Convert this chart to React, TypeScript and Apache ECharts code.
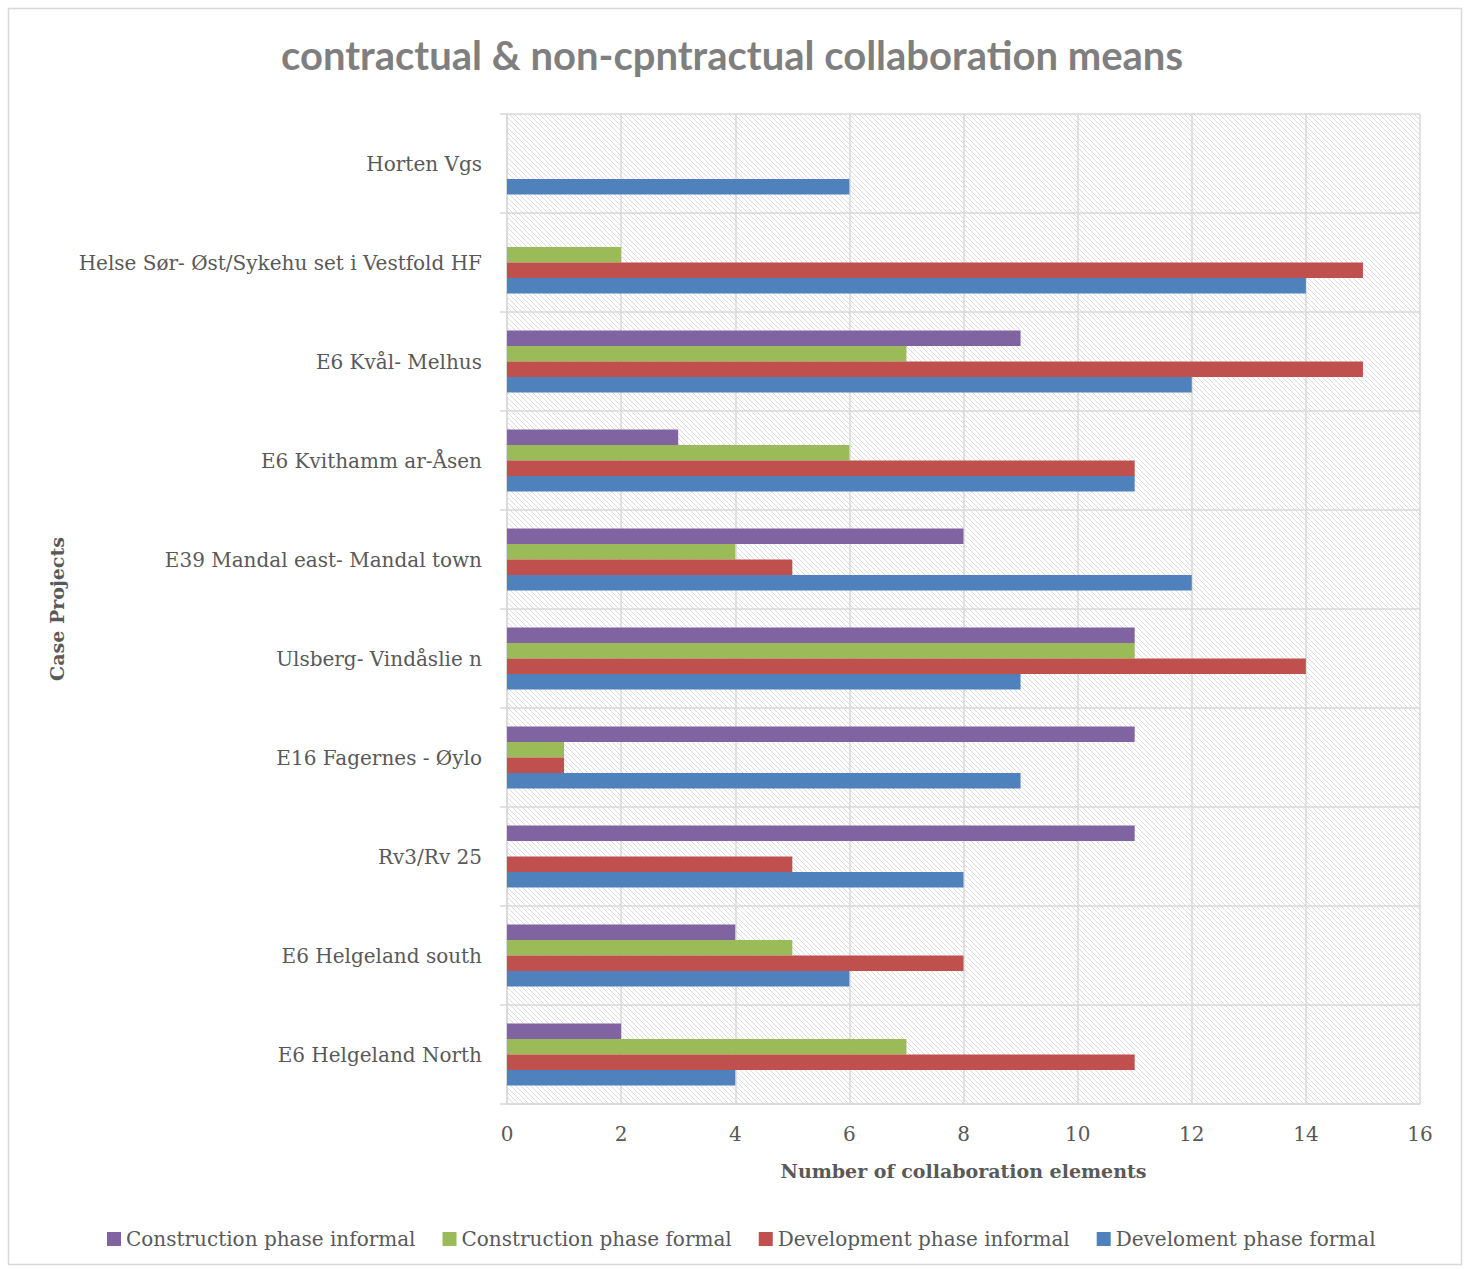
import React, { useEffect, useRef } from "react";
import * as echarts from "echarts";

const categories = [
  "E6 Helgeland North",
  "E6 Helgeland south",
  "Rv3/Rv 25",
  "E16 Fagernes - Øylo",
  "Ulsberg- Vindåslie n",
  "E39 Mandal east- Mandal town",
  "E6 Kvithamm ar-Åsen",
  "E6 Kvål- Melhus",
  "Helse Sør- Øst/Sykehu set i Vestfold HF",
  "Horten Vgs",
];

const constructionInformal = [2, 4, 11, 11, 11, 8, 3, 9, 0, 0];
const constructionFormal = [7, 5, 0, 1, 11, 4, 6, 7, 2, 0];
const developmentInformal = [11, 8, 5, 1, 14, 5, 11, 15, 15, 0];
const developmentFormal = [4, 6, 8, 9, 9, 12, 11, 12, 14, 6];

const seriesNames = [
  "Construction phase informal",
  "Construction phase formal",
  "Development phase informal",
  "Develoment phase formal",
];
const seriesColors = ["#8064A2", "#9BBB59", "#C0504D", "#4F81BD"];
const seriesData = [constructionInformal, constructionFormal, developmentInformal, developmentFormal];

const xTicks = { min: 0, max: 16, interval: 2 };

const hatchSvg =
  "data:image/svg+xml;charset=utf-8," +
  encodeURIComponent(
    "<svg xmlns='http://www.w3.org/2000/svg' width='5' height='5'>" +
      "<path d='M-1 -1L6 6M-1 4L1 6M4 -1L6 1' stroke='#dcdcdc' stroke-width='1' fill='none'/>" +
      "</svg>"
  );

export default function App() {
  const ref = useRef<HTMLDivElement>(null);
  useEffect(() => {
    if (!ref.current) return;
    const chart = echarts.init(ref.current, null, { renderer: "svg" });
    const serif = "'DejaVu Serif', serif";
    chart.setOption({
      animation: false,
      backgroundColor: "#ffffff",
      title: {
        text: "contractual & non-cpntractual collaboration means",
        left: "center",
        top: 30,
        textStyle: {
          fontFamily: "Lato, 'Open Sans', sans-serif",
          fontWeight: "bold",
          fontSize: 40,
          color: "#7f7f7f",
        },
      },
      graphic: [
        {
          type: "rect",
          shape: { x: 8.5, y: 8.5, width: 1453, height: 1256 },
          style: { fill: "none", stroke: "#d9d9d9", lineWidth: 1.5 },
          silent: true,
        },
      ],
      grid: {
        left: 507,
        right: 44,
        top: 114,
        bottom: 165,
        show: true,
        borderWidth: 0,
        backgroundColor: { image: hatchSvg, repeat: "repeat" },
      },
      legend: {
        bottom: 15,
        left: 102,
        itemWidth: 14,
        itemHeight: 14,
        itemGap: 27,
        icon: "rect",
        data: seriesNames,
        textStyle: { fontFamily: serif, fontSize: 20, color: "#595959" },
      },
      xAxis: {
        type: "value",
        min: xTicks.min,
        max: xTicks.max,
        interval: xTicks.interval,
        name: "Number of collaboration elements",
        nameLocation: "middle",
        nameGap: 57,
        nameTextStyle: { fontFamily: serif, fontWeight: "bold", fontSize: 19, color: "#595959" },
        axisLine: { show: true, lineStyle: { color: "#d9d9d9", width: 1.5 } },
        axisTick: { show: false },
        axisLabel: { fontFamily: serif, fontSize: 20, color: "#595959", margin: 20 },
        splitLine: { show: true, lineStyle: { color: "#d9d9d9", width: 1.5 } },
      },
      yAxis: {
        type: "category",
        data: categories,
        name: "Case Projects",
        nameLocation: "middle",
        nameGap: 441,
        nameTextStyle: { fontFamily: serif, fontWeight: "bold", fontSize: 19, color: "#595959" },
        axisLine: { show: true, lineStyle: { color: "#d9d9d9", width: 1.5 } },
        axisTick: { show: true, length: 7, lineStyle: { color: "#d9d9d9", width: 1.5 } },
        axisLabel: { fontFamily: serif, fontSize: 20, color: "#595959", margin: 25 },
        splitLine: { show: true, interval: 0, lineStyle: { color: "#d9d9d9", width: 1.5 } },
      },
      series: seriesNames.map((name, i) => ({
        name,
        type: "bar",
        data: seriesData[i],
        barWidth: 15.5,
        barGap: "0%",
        itemStyle: { color: seriesColors[i] },
      })),
    });
    return () => chart.dispose();
  }, []);
  return (
    <div
      ref={ref}
      style={{ position: "absolute", left: 0, top: 0, width: 1464, height: 1269 }}
    />
  );
}
